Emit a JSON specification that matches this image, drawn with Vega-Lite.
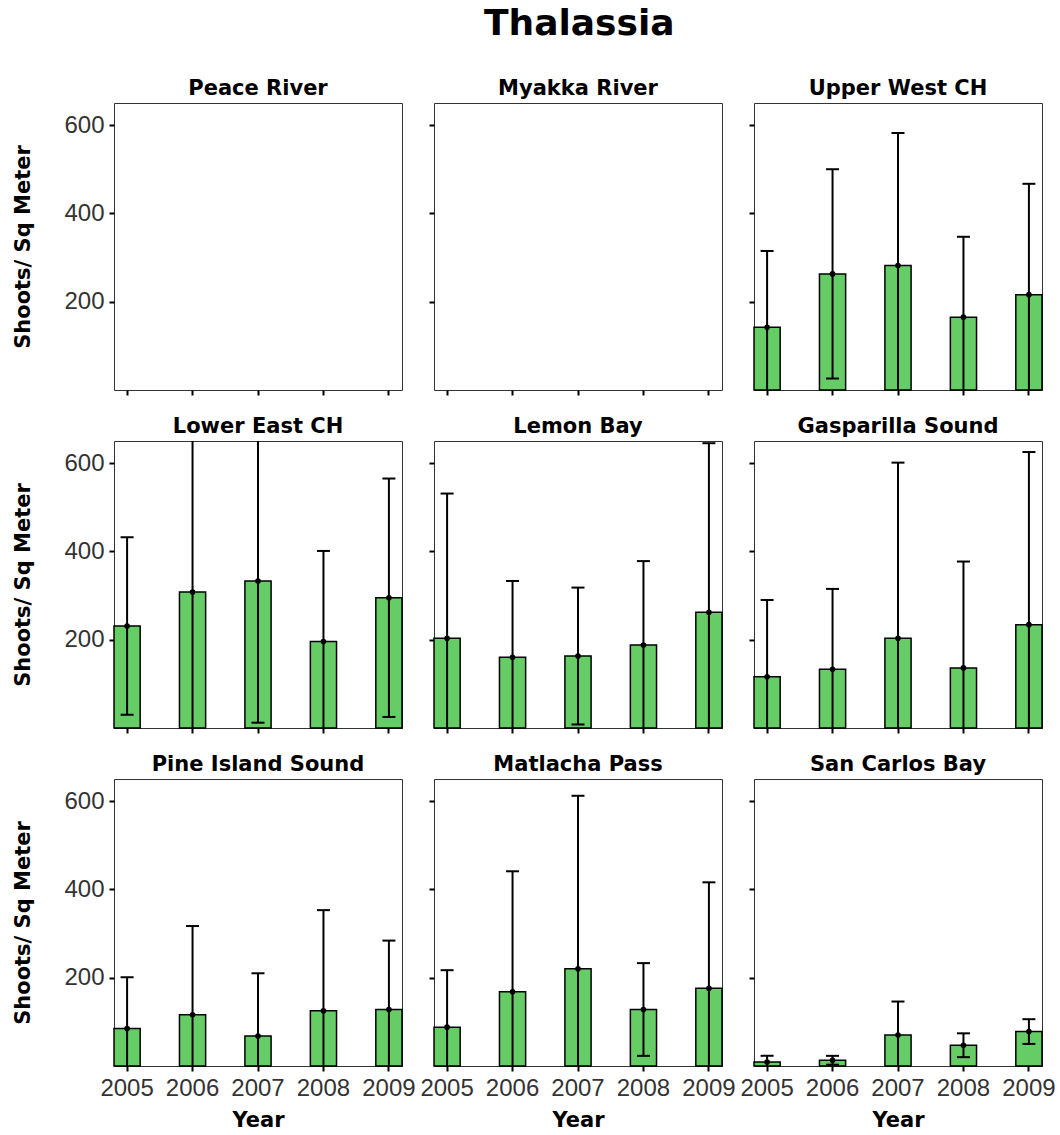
{
  "$schema": "https://vega.github.io/schema/vega-lite/v6.json",
  "padding": {"left": 12, "top": 5, "right": 5, "bottom": 5},
  "title": {"text": "Thalassia", "fontSize": 36, "font": "DejaVu Sans", "fontWeight": "bold", "anchor": "start", "frame": "group", "dx": 370, "offset": 35},
  "data": {"values": [
    {"Site": "Upper West CH", "Year": 2005, "Mean": 142, "Lo": -31, "Hi": 315},
    {"Site": "Upper West CH", "Year": 2006, "Mean": 263, "Lo": 26, "Hi": 500},
    {"Site": "Upper West CH", "Year": 2007, "Mean": 282, "Lo": -18, "Hi": 582},
    {"Site": "Upper West CH", "Year": 2008, "Mean": 165, "Lo": -17, "Hi": 347},
    {"Site": "Upper West CH", "Year": 2009, "Mean": 216, "Lo": -35, "Hi": 467},
    {"Site": "Lower East CH", "Year": 2005, "Mean": 231, "Lo": 30, "Hi": 432},
    {"Site": "Lower East CH", "Year": 2006, "Mean": 308, "Lo": -64, "Hi": 680},
    {"Site": "Lower East CH", "Year": 2007, "Mean": 333, "Lo": 12, "Hi": 654},
    {"Site": "Lower East CH", "Year": 2008, "Mean": 196, "Lo": -9, "Hi": 401},
    {"Site": "Lower East CH", "Year": 2009, "Mean": 295, "Lo": 25, "Hi": 565},
    {"Site": "Lemon Bay", "Year": 2005, "Mean": 203, "Lo": -125, "Hi": 531},
    {"Site": "Lemon Bay", "Year": 2006, "Mean": 160, "Lo": -13, "Hi": 333},
    {"Site": "Lemon Bay", "Year": 2007, "Mean": 163, "Lo": 8, "Hi": 318},
    {"Site": "Lemon Bay", "Year": 2008, "Mean": 188, "Lo": -2, "Hi": 378},
    {"Site": "Lemon Bay", "Year": 2009, "Mean": 262, "Lo": -121, "Hi": 645},
    {"Site": "Gasparilla Sound", "Year": 2005, "Mean": 116, "Lo": -58, "Hi": 290},
    {"Site": "Gasparilla Sound", "Year": 2006, "Mean": 133, "Lo": -49, "Hi": 315},
    {"Site": "Gasparilla Sound", "Year": 2007, "Mean": 203, "Lo": -195, "Hi": 601},
    {"Site": "Gasparilla Sound", "Year": 2008, "Mean": 136, "Lo": -105, "Hi": 377},
    {"Site": "Gasparilla Sound", "Year": 2009, "Mean": 234, "Lo": -157, "Hi": 625},
    {"Site": "Pine Island Sound", "Year": 2005, "Mean": 85, "Lo": -31, "Hi": 201},
    {"Site": "Pine Island Sound", "Year": 2006, "Mean": 116, "Lo": -85, "Hi": 317},
    {"Site": "Pine Island Sound", "Year": 2007, "Mean": 68, "Lo": -74, "Hi": 210},
    {"Site": "Pine Island Sound", "Year": 2008, "Mean": 125, "Lo": -103, "Hi": 353},
    {"Site": "Pine Island Sound", "Year": 2009, "Mean": 128, "Lo": -28, "Hi": 284},
    {"Site": "Matlacha Pass", "Year": 2005, "Mean": 88, "Lo": -41, "Hi": 217},
    {"Site": "Matlacha Pass", "Year": 2006, "Mean": 168, "Lo": -105, "Hi": 441},
    {"Site": "Matlacha Pass", "Year": 2007, "Mean": 220, "Lo": -173, "Hi": 612},
    {"Site": "Matlacha Pass", "Year": 2008, "Mean": 128, "Lo": 23, "Hi": 233},
    {"Site": "Matlacha Pass", "Year": 2009, "Mean": 176, "Lo": -64, "Hi": 416},
    {"Site": "San Carlos Bay", "Year": 2005, "Mean": 9, "Lo": -5, "Hi": 23},
    {"Site": "San Carlos Bay", "Year": 2006, "Mean": 13, "Lo": 3, "Hi": 23},
    {"Site": "San Carlos Bay", "Year": 2007, "Mean": 70, "Lo": -6, "Hi": 146},
    {"Site": "San Carlos Bay", "Year": 2008, "Mean": 47, "Lo": 20, "Hi": 74},
    {"Site": "San Carlos Bay", "Year": 2009, "Mean": 78, "Lo": 50, "Hi": 106}
  ]},
  "config": {
    "view": {"stroke": "#333333", "strokeWidth": 1},
    "axis": {"grid": false, "domain": false, "tickColor": "black", "tickWidth": 2, "tickSize": 5, "labelPadding": 5, "labelFont": "Liberation Sans", "labelFontSize": 24, "labelColor": "#333333", "titleFont": "DejaVu Sans", "titleFontSize": 21, "titleFontWeight": "bold", "titleColor": "black"},
    "axisY": {"titlePadding": 30},
    "axisX": {"titlePadding": 9},
    "title": {"font": "DejaVu Sans", "fontSize": 21, "fontWeight": "bold", "color": "black", "offset": 4}
  },
  "columns": 3,
  "bounds": "flush",
  "align": "all",
  "spacing": {"row": 51, "column": 32},
  "concat": [
      {"width": 288, "height": 287, "title": "Peace River",
       "transform": [{"filter": {"field": "Site", "equal": "Peace River"}}],
       "encoding": {"x": {"field": "Year", "type": "ordinal", "scale": {"domain": [2005, 2006, 2007, 2008, 2009], "paddingInner": 0.6, "paddingOuter": 0}, "axis": {"title": null, "labels": false}}},
       "layer": [
         {"mark": {"type": "bar", "fill": "#66CC66", "stroke": "black", "strokeWidth": 1.5}, "encoding": {"y": {"field": "Mean", "type": "quantitative", "scale": {"domain": [0, 650], "nice": false}, "axis": {"title": "Shoots/ Sq Meter", "values": [200, 400, 600]}}}},
         {"mark": {"type": "rule", "color": "black", "strokeWidth": 2, "clip": true}, "encoding": {"y": {"field": "Lo", "type": "quantitative", "axis": {"title": "Shoots/ Sq Meter", "values": [200, 400, 600]}}, "y2": {"field": "Hi"}}},
         {"mark": {"type": "tick", "color": "black", "opacity": 1, "thickness": 2, "size": 13, "clip": true}, "encoding": {"y": {"field": "Hi", "type": "quantitative", "axis": {"title": "Shoots/ Sq Meter", "values": [200, 400, 600]}}}},
         {"mark": {"type": "tick", "color": "black", "opacity": 1, "thickness": 2, "size": 13, "clip": true}, "encoding": {"y": {"field": "Lo", "type": "quantitative", "axis": {"title": "Shoots/ Sq Meter", "values": [200, 400, 600]}}}},
         {"mark": {"type": "circle", "color": "black", "opacity": 1, "size": 32}, "encoding": {"y": {"field": "Mean", "type": "quantitative", "axis": {"title": "Shoots/ Sq Meter", "values": [200, 400, 600]}}}}
       ]},
      {"width": 288, "height": 287, "title": "Myakka River",
       "transform": [{"filter": {"field": "Site", "equal": "Myakka River"}}],
       "encoding": {"x": {"field": "Year", "type": "ordinal", "scale": {"domain": [2005, 2006, 2007, 2008, 2009], "paddingInner": 0.6, "paddingOuter": 0}, "axis": {"title": null, "labels": false}}},
       "layer": [
         {"mark": {"type": "bar", "fill": "#66CC66", "stroke": "black", "strokeWidth": 1.5}, "encoding": {"y": {"field": "Mean", "type": "quantitative", "scale": {"domain": [0, 650], "nice": false}, "axis": {"title": null, "labels": false, "values": [200, 400, 600]}}}},
         {"mark": {"type": "rule", "color": "black", "strokeWidth": 2, "clip": true}, "encoding": {"y": {"field": "Lo", "type": "quantitative", "axis": {"title": null, "labels": false, "values": [200, 400, 600]}}, "y2": {"field": "Hi"}}},
         {"mark": {"type": "tick", "color": "black", "opacity": 1, "thickness": 2, "size": 13, "clip": true}, "encoding": {"y": {"field": "Hi", "type": "quantitative", "axis": {"title": null, "labels": false, "values": [200, 400, 600]}}}},
         {"mark": {"type": "tick", "color": "black", "opacity": 1, "thickness": 2, "size": 13, "clip": true}, "encoding": {"y": {"field": "Lo", "type": "quantitative", "axis": {"title": null, "labels": false, "values": [200, 400, 600]}}}},
         {"mark": {"type": "circle", "color": "black", "opacity": 1, "size": 32}, "encoding": {"y": {"field": "Mean", "type": "quantitative", "axis": {"title": null, "labels": false, "values": [200, 400, 600]}}}}
       ]},
      {"width": 288, "height": 287, "title": "Upper West CH",
       "transform": [{"filter": {"field": "Site", "equal": "Upper West CH"}}],
       "encoding": {"x": {"field": "Year", "type": "ordinal", "scale": {"domain": [2005, 2006, 2007, 2008, 2009], "paddingInner": 0.6, "paddingOuter": 0}, "axis": {"title": null, "labels": false}}},
       "layer": [
         {"mark": {"type": "bar", "fill": "#66CC66", "stroke": "black", "strokeWidth": 1.5}, "encoding": {"y": {"field": "Mean", "type": "quantitative", "scale": {"domain": [0, 650], "nice": false}, "axis": {"title": null, "labels": false, "values": [200, 400, 600]}}}},
         {"mark": {"type": "rule", "color": "black", "strokeWidth": 2, "clip": true}, "encoding": {"y": {"field": "Lo", "type": "quantitative", "axis": {"title": null, "labels": false, "values": [200, 400, 600]}}, "y2": {"field": "Hi"}}},
         {"mark": {"type": "tick", "color": "black", "opacity": 1, "thickness": 2, "size": 13, "clip": true}, "encoding": {"y": {"field": "Hi", "type": "quantitative", "axis": {"title": null, "labels": false, "values": [200, 400, 600]}}}},
         {"mark": {"type": "tick", "color": "black", "opacity": 1, "thickness": 2, "size": 13, "clip": true}, "encoding": {"y": {"field": "Lo", "type": "quantitative", "axis": {"title": null, "labels": false, "values": [200, 400, 600]}}}},
         {"mark": {"type": "circle", "color": "black", "opacity": 1, "size": 32}, "encoding": {"y": {"field": "Mean", "type": "quantitative", "axis": {"title": null, "labels": false, "values": [200, 400, 600]}}}}
       ]},
      {"width": 288, "height": 287, "title": "Lower East CH",
       "transform": [{"filter": {"field": "Site", "equal": "Lower East CH"}}],
       "encoding": {"x": {"field": "Year", "type": "ordinal", "scale": {"domain": [2005, 2006, 2007, 2008, 2009], "paddingInner": 0.6, "paddingOuter": 0}, "axis": {"title": null, "labels": false}}},
       "layer": [
         {"mark": {"type": "bar", "fill": "#66CC66", "stroke": "black", "strokeWidth": 1.5}, "encoding": {"y": {"field": "Mean", "type": "quantitative", "scale": {"domain": [0, 650], "nice": false}, "axis": {"title": "Shoots/ Sq Meter", "values": [200, 400, 600]}}}},
         {"mark": {"type": "rule", "color": "black", "strokeWidth": 2, "clip": true}, "encoding": {"y": {"field": "Lo", "type": "quantitative", "axis": {"title": "Shoots/ Sq Meter", "values": [200, 400, 600]}}, "y2": {"field": "Hi"}}},
         {"mark": {"type": "tick", "color": "black", "opacity": 1, "thickness": 2, "size": 13, "clip": true}, "encoding": {"y": {"field": "Hi", "type": "quantitative", "axis": {"title": "Shoots/ Sq Meter", "values": [200, 400, 600]}}}},
         {"mark": {"type": "tick", "color": "black", "opacity": 1, "thickness": 2, "size": 13, "clip": true}, "encoding": {"y": {"field": "Lo", "type": "quantitative", "axis": {"title": "Shoots/ Sq Meter", "values": [200, 400, 600]}}}},
         {"mark": {"type": "circle", "color": "black", "opacity": 1, "size": 32}, "encoding": {"y": {"field": "Mean", "type": "quantitative", "axis": {"title": "Shoots/ Sq Meter", "values": [200, 400, 600]}}}}
       ]},
      {"width": 288, "height": 287, "title": "Lemon Bay",
       "transform": [{"filter": {"field": "Site", "equal": "Lemon Bay"}}],
       "encoding": {"x": {"field": "Year", "type": "ordinal", "scale": {"domain": [2005, 2006, 2007, 2008, 2009], "paddingInner": 0.6, "paddingOuter": 0}, "axis": {"title": null, "labels": false}}},
       "layer": [
         {"mark": {"type": "bar", "fill": "#66CC66", "stroke": "black", "strokeWidth": 1.5}, "encoding": {"y": {"field": "Mean", "type": "quantitative", "scale": {"domain": [0, 650], "nice": false}, "axis": {"title": null, "labels": false, "values": [200, 400, 600]}}}},
         {"mark": {"type": "rule", "color": "black", "strokeWidth": 2, "clip": true}, "encoding": {"y": {"field": "Lo", "type": "quantitative", "axis": {"title": null, "labels": false, "values": [200, 400, 600]}}, "y2": {"field": "Hi"}}},
         {"mark": {"type": "tick", "color": "black", "opacity": 1, "thickness": 2, "size": 13, "clip": true}, "encoding": {"y": {"field": "Hi", "type": "quantitative", "axis": {"title": null, "labels": false, "values": [200, 400, 600]}}}},
         {"mark": {"type": "tick", "color": "black", "opacity": 1, "thickness": 2, "size": 13, "clip": true}, "encoding": {"y": {"field": "Lo", "type": "quantitative", "axis": {"title": null, "labels": false, "values": [200, 400, 600]}}}},
         {"mark": {"type": "circle", "color": "black", "opacity": 1, "size": 32}, "encoding": {"y": {"field": "Mean", "type": "quantitative", "axis": {"title": null, "labels": false, "values": [200, 400, 600]}}}}
       ]},
      {"width": 288, "height": 287, "title": "Gasparilla Sound",
       "transform": [{"filter": {"field": "Site", "equal": "Gasparilla Sound"}}],
       "encoding": {"x": {"field": "Year", "type": "ordinal", "scale": {"domain": [2005, 2006, 2007, 2008, 2009], "paddingInner": 0.6, "paddingOuter": 0}, "axis": {"title": null, "labels": false}}},
       "layer": [
         {"mark": {"type": "bar", "fill": "#66CC66", "stroke": "black", "strokeWidth": 1.5}, "encoding": {"y": {"field": "Mean", "type": "quantitative", "scale": {"domain": [0, 650], "nice": false}, "axis": {"title": null, "labels": false, "values": [200, 400, 600]}}}},
         {"mark": {"type": "rule", "color": "black", "strokeWidth": 2, "clip": true}, "encoding": {"y": {"field": "Lo", "type": "quantitative", "axis": {"title": null, "labels": false, "values": [200, 400, 600]}}, "y2": {"field": "Hi"}}},
         {"mark": {"type": "tick", "color": "black", "opacity": 1, "thickness": 2, "size": 13, "clip": true}, "encoding": {"y": {"field": "Hi", "type": "quantitative", "axis": {"title": null, "labels": false, "values": [200, 400, 600]}}}},
         {"mark": {"type": "tick", "color": "black", "opacity": 1, "thickness": 2, "size": 13, "clip": true}, "encoding": {"y": {"field": "Lo", "type": "quantitative", "axis": {"title": null, "labels": false, "values": [200, 400, 600]}}}},
         {"mark": {"type": "circle", "color": "black", "opacity": 1, "size": 32}, "encoding": {"y": {"field": "Mean", "type": "quantitative", "axis": {"title": null, "labels": false, "values": [200, 400, 600]}}}}
       ]},
      {"width": 288, "height": 287, "title": "Pine Island Sound",
       "transform": [{"filter": {"field": "Site", "equal": "Pine Island Sound"}}],
       "encoding": {"x": {"field": "Year", "type": "ordinal", "scale": {"domain": [2005, 2006, 2007, 2008, 2009], "paddingInner": 0.6, "paddingOuter": 0}, "axis": {"title": "Year", "labelAngle": 0}}},
       "layer": [
         {"mark": {"type": "bar", "fill": "#66CC66", "stroke": "black", "strokeWidth": 1.5}, "encoding": {"y": {"field": "Mean", "type": "quantitative", "scale": {"domain": [0, 650], "nice": false}, "axis": {"title": "Shoots/ Sq Meter", "values": [200, 400, 600]}}}},
         {"mark": {"type": "rule", "color": "black", "strokeWidth": 2, "clip": true}, "encoding": {"y": {"field": "Lo", "type": "quantitative", "axis": {"title": "Shoots/ Sq Meter", "values": [200, 400, 600]}}, "y2": {"field": "Hi"}}},
         {"mark": {"type": "tick", "color": "black", "opacity": 1, "thickness": 2, "size": 13, "clip": true}, "encoding": {"y": {"field": "Hi", "type": "quantitative", "axis": {"title": "Shoots/ Sq Meter", "values": [200, 400, 600]}}}},
         {"mark": {"type": "tick", "color": "black", "opacity": 1, "thickness": 2, "size": 13, "clip": true}, "encoding": {"y": {"field": "Lo", "type": "quantitative", "axis": {"title": "Shoots/ Sq Meter", "values": [200, 400, 600]}}}},
         {"mark": {"type": "circle", "color": "black", "opacity": 1, "size": 32}, "encoding": {"y": {"field": "Mean", "type": "quantitative", "axis": {"title": "Shoots/ Sq Meter", "values": [200, 400, 600]}}}}
       ]},
      {"width": 288, "height": 287, "title": "Matlacha Pass",
       "transform": [{"filter": {"field": "Site", "equal": "Matlacha Pass"}}],
       "encoding": {"x": {"field": "Year", "type": "ordinal", "scale": {"domain": [2005, 2006, 2007, 2008, 2009], "paddingInner": 0.6, "paddingOuter": 0}, "axis": {"title": "Year", "labelAngle": 0}}},
       "layer": [
         {"mark": {"type": "bar", "fill": "#66CC66", "stroke": "black", "strokeWidth": 1.5}, "encoding": {"y": {"field": "Mean", "type": "quantitative", "scale": {"domain": [0, 650], "nice": false}, "axis": {"title": null, "labels": false, "values": [200, 400, 600]}}}},
         {"mark": {"type": "rule", "color": "black", "strokeWidth": 2, "clip": true}, "encoding": {"y": {"field": "Lo", "type": "quantitative", "axis": {"title": null, "labels": false, "values": [200, 400, 600]}}, "y2": {"field": "Hi"}}},
         {"mark": {"type": "tick", "color": "black", "opacity": 1, "thickness": 2, "size": 13, "clip": true}, "encoding": {"y": {"field": "Hi", "type": "quantitative", "axis": {"title": null, "labels": false, "values": [200, 400, 600]}}}},
         {"mark": {"type": "tick", "color": "black", "opacity": 1, "thickness": 2, "size": 13, "clip": true}, "encoding": {"y": {"field": "Lo", "type": "quantitative", "axis": {"title": null, "labels": false, "values": [200, 400, 600]}}}},
         {"mark": {"type": "circle", "color": "black", "opacity": 1, "size": 32}, "encoding": {"y": {"field": "Mean", "type": "quantitative", "axis": {"title": null, "labels": false, "values": [200, 400, 600]}}}}
       ]},
      {"width": 288, "height": 287, "title": "San Carlos Bay",
       "transform": [{"filter": {"field": "Site", "equal": "San Carlos Bay"}}],
       "encoding": {"x": {"field": "Year", "type": "ordinal", "scale": {"domain": [2005, 2006, 2007, 2008, 2009], "paddingInner": 0.6, "paddingOuter": 0}, "axis": {"title": "Year", "labelAngle": 0}}},
       "layer": [
         {"mark": {"type": "bar", "fill": "#66CC66", "stroke": "black", "strokeWidth": 1.5}, "encoding": {"y": {"field": "Mean", "type": "quantitative", "scale": {"domain": [0, 650], "nice": false}, "axis": {"title": null, "labels": false, "values": [200, 400, 600]}}}},
         {"mark": {"type": "rule", "color": "black", "strokeWidth": 2, "clip": true}, "encoding": {"y": {"field": "Lo", "type": "quantitative", "axis": {"title": null, "labels": false, "values": [200, 400, 600]}}, "y2": {"field": "Hi"}}},
         {"mark": {"type": "tick", "color": "black", "opacity": 1, "thickness": 2, "size": 13, "clip": true}, "encoding": {"y": {"field": "Hi", "type": "quantitative", "axis": {"title": null, "labels": false, "values": [200, 400, 600]}}}},
         {"mark": {"type": "tick", "color": "black", "opacity": 1, "thickness": 2, "size": 13, "clip": true}, "encoding": {"y": {"field": "Lo", "type": "quantitative", "axis": {"title": null, "labels": false, "values": [200, 400, 600]}}}},
         {"mark": {"type": "circle", "color": "black", "opacity": 1, "size": 32}, "encoding": {"y": {"field": "Mean", "type": "quantitative", "axis": {"title": null, "labels": false, "values": [200, 400, 600]}}}}
       ]}
  ]
}
